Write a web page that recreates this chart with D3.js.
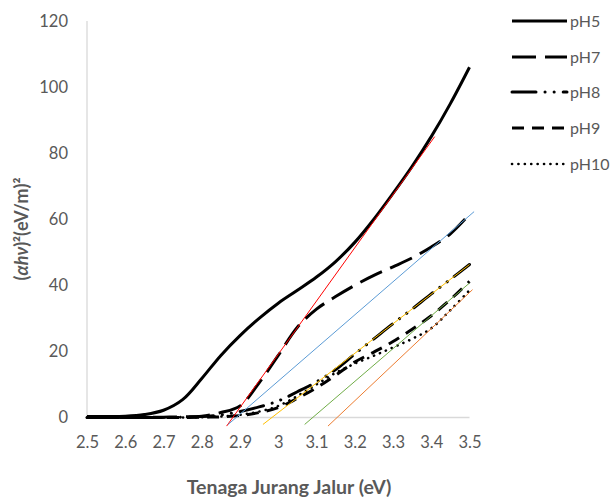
<!DOCTYPE html>
<html>
<head>
<meta charset="utf-8">
<script src="https://cdn.jsdelivr.net/npm/d3@7"></script>
<style>
  html, body { margin: 0; padding: 0; background: #ffffff; }
  svg { display: block; }
  text { font-family: Lato, "Open Sans", "Liberation Sans", sans-serif; fill: #595959; }
</style>
</head>
<body>
<svg id="chart" width="615" height="497"></svg>
<script>
// ---- data ----
const energy = [2.5, 2.55, 2.6, 2.65, 2.7, 2.75, 2.8, 2.85, 2.9, 2.95, 3.0, 3.05, 3.1, 3.15, 3.2, 3.25, 3.3, 3.35, 3.4, 3.45, 3.5];
const pH5  = [0.3, 0.3, 0.4, 0.9, 2.2, 5.4, 11.8, 18.8, 24.8, 30.0, 34.6, 38.5, 42.5, 47.2, 53.0, 60.0, 67.8, 76.0, 85.0, 95.0, 106.0];
const pH7  = [0, 0, 0, 0, 0.1, 0.2, 0.4, 1.5, 3.5, 10.5, 18.8, 27.3, 32.8, 36.6, 40.0, 43.0, 45.6, 48.3, 51.6, 55.6, 61.5];
const pH8  = [0, 0, 0, 0, 0, 0.1, 0.3, 0.8, 1.8, 3.2, 5.0, 7.8, 10.8, 14.5, 19.2, 23.8, 28.4, 32.8, 37.4, 41.8, 46.3];
const pH9  = [0, 0, 0, 0, 0, 0, 0.1, 0.2, 0.6, 1.5, 3.0, 5.8, 9.0, 12.8, 16.8, 19.8, 23.0, 26.7, 30.8, 35.7, 41.2];
const pH10 = [0, 0, 0, 0, 0, 0, 0.1, 0.3, 0.8, 1.8, 3.5, 6.5, 10.0, 13.5, 16.3, 18.7, 21.2, 23.8, 27.0, 32.5, 38.5];
const seriesNames = ["pH5", "pH7", "pH8", "pH9", "pH10"];
const seriesValues = [pH5, pH7, pH8, pH9, pH10];
const seriesDash = ["", "24,9", "24,9,0.1,9,0.1,9", "12,8", "0.1,6.3"];

// tangent (band-gap) lines: [x0, y0, x1, y1]
const fitRed    = [2.865, -2.6, 3.409, 85.0];
const fitBlue   = [2.869, -2.1, 3.512, 62.3];
const fitYellow = [2.960, -2.1, 3.500, 46.3];
const fitGreen  = [3.069, -2.1, 3.500, 40.7];
const fitOrange = [3.130, -2.6, 3.508, 38.7];
const fitLines = [fitRed, fitBlue, fitYellow, fitGreen, fitOrange];
const fitColors = ["#ff0000", "#5b9bd5", "#ffc000", "#70ad47", "#ed7d31"];

const xTicks = [2.5, 2.6, 2.7, 2.8, 2.9, 3.0, 3.1, 3.2, 3.3, 3.4, 3.5];
const yTicks = [0, 20, 40, 60, 80, 100, 120];

// ---- chart ----
const svg = d3.select("#chart");
const x = d3.scaleLinear().domain([2.5, 3.5]).range([87, 469.5]);
const y = d3.scaleLinear().domain([0, 120]).range([417.5, 21]);

// axes lines
svg.append("line").attr("x1", x(2.5)).attr("x2", x(2.5)).attr("y1", y(120)).attr("y2", y(0))
  .attr("stroke", "#d9d9d9").attr("stroke-width", 1.3);
svg.append("line").attr("x1", x(2.5)).attr("x2", x(3.5)).attr("y1", y(0)).attr("y2", y(0))
  .attr("stroke", "#d9d9d9").attr("stroke-width", 1.3);

// tick labels via axes
const xAxis = svg.append("g").attr("transform", `translate(0,${y(0)})`)
  .call(d3.axisBottom(x).tickValues(xTicks).tickSize(0).tickPadding(19)
    .tickFormat(d => d === 3 ? "3" : d3.format(".1f")(d)));
xAxis.select(".domain").remove();
xAxis.selectAll("text").style("font-size", "16.5px").style("fill", "#595959")
  .style("font-family", "Lato, 'Open Sans', sans-serif");

const yAxis = svg.append("g").attr("transform", `translate(${x(2.5)},0)`)
  .call(d3.axisLeft(y).tickValues(yTicks).tickSize(0).tickPadding(19));
yAxis.select(".domain").remove();
yAxis.selectAll("text").style("font-size", "16.5px").style("fill", "#595959")
  .style("font-family", "Lato, 'Open Sans', sans-serif");

// series
const line = d3.line().x(d => x(d[0])).y(d => y(Math.max(0, d[1]))).curve(d3.curveCatmullRom.alpha(0.5));
seriesValues.forEach((vals, i) => {
  const pts = energy.map((e, j) => [e, vals[j]]);
  svg.append("path").attr("d", line(pts))
    .attr("fill", "none").attr("stroke", "#000")
    .attr("stroke-width", i === 4 ? 2.6 : 3)
    .attr("stroke-linecap", (i === 2 || i === 4) ? "round" : "butt")
    .attr("stroke-dasharray", seriesDash[i] || null);
});

// fit lines
fitLines.forEach((f, i) => {
  svg.append("line")
    .attr("x1", x(f[0])).attr("y1", y(f[1]))
    .attr("x2", x(f[2])).attr("y2", y(f[3]))
    .attr("stroke", fitColors[i]).attr("stroke-width", 1);
});

// legend
const legend = svg.append("g");
const legendY = [21, 57, 92, 128, 164];
seriesNames.forEach((name, i) => {
  legend.append("line").attr("x1", 512).attr("x2", 567)
    .attr("y1", legendY[i]).attr("y2", legendY[i])
    .attr("stroke", "#000").attr("stroke-width", i === 4 ? 2.6 : 3)
    .attr("stroke-linecap", (i === 2 || i === 4) ? "round" : "butt")
    .attr("stroke-dasharray", seriesDash[i] || null);
  legend.append("text").attr("x", 570).attr("y", legendY[i]).attr("dy", "0.35em")
    .style("font-size", "16px").text(name);
});

// axis titles
svg.append("text").attr("x", 289).attr("y", 494).attr("text-anchor", "middle")
  .style("font-size", "19.5px").style("font-weight", "bold").text("Tenaga Jurang Jalur (eV)");

const yt = svg.append("text").attr("transform", "translate(28,229) rotate(-90)")
  .attr("text-anchor", "middle").style("font-size", "18px").style("font-weight", "bold");
yt.append("tspan").text("(");
yt.append("tspan").style("font-style", "italic").text("αhν");
yt.append("tspan").text(")²(eV/m)²");
</script>
</body>
</html>
